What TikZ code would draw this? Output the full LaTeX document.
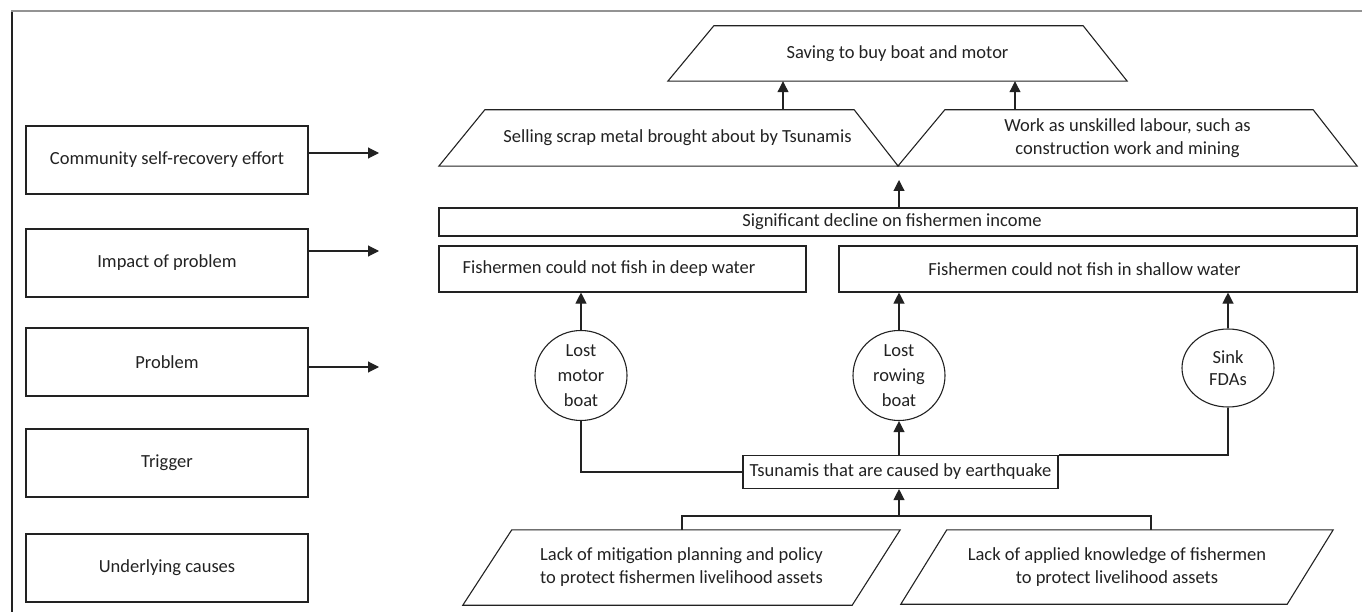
\documentclass[tikz,border=0pt]{standalone}
\usepackage{fontspec}
\setmainfont{Carlito}
\usetikzlibrary{arrows.meta,calc,shapes.geometric}
\definecolor{ink}{HTML}{222222}
\definecolor{txt}{HTML}{222222}
\tikzset{
  every node/.style={font=\fontsize{18.5}{23}\selectfont, text=txt},
  outline/.style={draw=ink, line width=1.1pt},
  box/.style={outline, rectangle, inner sep=0pt},
  hidden/.style={rectangle, inner sep=0pt, align=center},
  ell/.style={outline, ellipse, inner sep=0pt},
  conn/.style={draw=ink, line width=1.1pt},
  arr/.style={conn, -{Triangle[length=11pt,width=11pt]}},
}
\begin{document}
\begin{tikzpicture}[x=1pt,y=-1pt]
\useasboundingbox (0,0) rectangle (1362,612);
% frame
\draw[gray!85, line width=1.4pt] (12,612) -- (12,11) -- (1362,11);
\draw[ink, line width=1.1pt] (12,612) -- (12,12);

% left column
\node[box, minimum width=282, minimum height=68] (comm) at (167,160) {Community self-recovery effort};
\node[box, minimum width=282, minimum height=68] (impact) at (167,263) {Impact of problem};
\node[box, minimum width=282, minimum height=68] (prob) at (167,362) {Problem};
\node[box, minimum width=282, minimum height=68] (trig) at (167,463) {Trigger};
\node[box, minimum width=282, minimum height=68] (under) at (167,568) {Underlying causes};
\coordinate (t1) at (379,153);
\coordinate (t2) at (379,251);
\coordinate (t3) at (379,367);
\draw[arr] (t1 -| comm.east) -- (t1);
\draw[arr] (t2 -| impact.east) -- (t2);
\draw[arr] (t3 -| prob.east) -- (t3);

% top trapezoid
\node[hidden, minimum width=459, minimum height=55] (save) at (897.5,53.5) {Saving to buy boat and motor};
\draw[outline] (save.south west) -- ($(save.north west)+(46,0)$) -- ($(save.north east)+(-44,0)$) -- (save.south east) -- cycle;

% second row
\node[hidden, minimum width=459, minimum height=56] (sell) at (668.5,138) {\hspace*{18pt}Selling scrap metal brought about by Tsunamis};
\draw[outline] (sell.south west) -- ($(sell.north west)+(46,0)$) -- ($(sell.north east)+(-44,0)$) -- (sell.south east) -- cycle;
\node[hidden, minimum width=459, minimum height=56] (work) at (1127.5,138) {Work as unskilled labour, such as\\construction work and mining};
\draw[outline] (work.south west) -- ($(work.north west)+(47,0)$) -- ($(work.north east)+(-44,0)$) -- (work.south east) -- cycle;
\draw[arr] (sell.north -| 783,0) -- (save.south -| 783,0);
\draw[arr] (work.north -| 1015,0) -- (save.south -| 1015,0);

% income
\node[box, minimum width=918, minimum height=28] (income) at (898,222) {Significant decline on fishermen income\hspace*{12pt}};
\coordinate (apexgap) at (899,180);
\draw[arr] (income.north -| apexgap) -- (apexgap);

% impacts
\node[box, minimum width=367, minimum height=46] (deep) at (622.5,269) {Fishermen could not fish in deep water\hspace*{27pt}};
\node[box, minimum width=518, minimum height=46] (shallow) at (1098,269) {Fishermen could not fish in shallow water\hspace*{27pt}};

% problems
\node[ell, minimum width=92, minimum height=90] (motor) at (581,375.5) {};
\node[hidden, font=\fontsize{18.5}{25}\selectfont] (motorlbl) at (motor.center) {Lost\\motor\\boat};
\node[ell, minimum width=92, minimum height=90] (rowing) at (899,375.5) {};
\node[hidden, font=\fontsize{18.5}{25}\selectfont] (rowinglbl) at (rowing.center) {Lost\\rowing\\boat};
\node[ell, minimum width=92, minimum height=78] (sink) at (1228,368) {};
\node[hidden, font=\fontsize{18.5}{22}\selectfont] (sinklbl) at (sink.center) {Sink\\FDAs};
\draw[arr] (motor.north) -- (motor.north |- deep.south);
\draw[arr] (rowing.north) -- (rowing.north |- shallow.south);
\draw[arr] (sink.north) -- (sink.north |- shallow.south);

% trigger
\node[box, minimum width=315, minimum height=33] (tsu) at (900.5,472) {Tsunamis that are caused by earthquake};
\draw[conn] (motor.south) |- (tsu.west);
\draw[conn] (sink.south) |- (tsu.north east);
\draw[arr] (tsu.north -| rowing.south) -- (rowing.south);

% underlying causes
\node[hidden, minimum width=437, minimum height=75] (lack1) at (681.5,567.5) {Lack of mitigation planning and policy\\to protect fishermen livelihood assets};
\draw[outline] (lack1.south west) -- ($(lack1.north west)+(49,0)$) -- (lack1.north east) -- ($(lack1.south east)+(-48,0)$) -- cycle;
\node[hidden, minimum width=432, minimum height=74] (lack2) at (1117,567) {Lack of applied knowledge of fishermen\\to protect livelihood assets};
\draw[outline] (lack2.south west) -- ($(lack2.north west)+(46,0)$) -- (lack2.north east) -- ($(lack2.south east)+(-46,0)$) -- cycle;
\coordinate (j1) at (682,516);
\coordinate (j2) at (1151,516);
\draw[conn] (lack1.north -| j1) -- (j1) -- (j2) -- (lack2.north -| j2);
\coordinate (j3) at (899,516);
\draw[arr] (j3) -- (tsu.south -| j3);
\end{tikzpicture}
\end{document}
